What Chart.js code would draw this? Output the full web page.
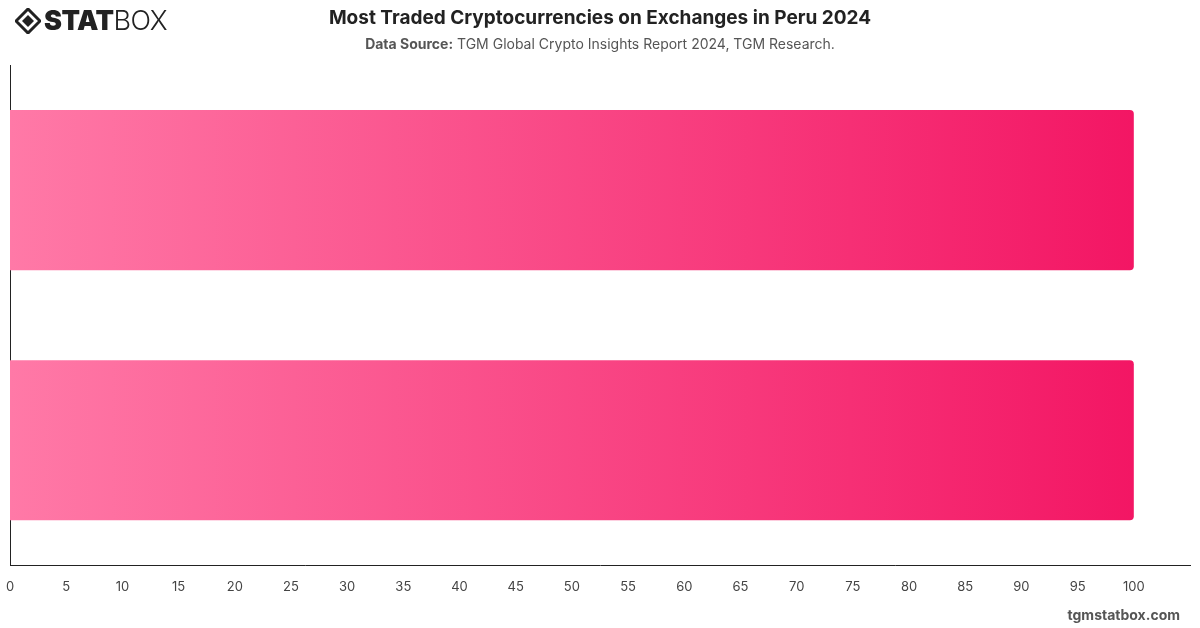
<!DOCTYPE html>
<html>
<head>
<meta charset="utf-8">
<script src="https://cdn.jsdelivr.net/npm/chart.js@4.4.1/dist/chart.umd.min.js"></script>
<style>
  html, body { margin: 0; padding: 0; background: #fff; font-family: Inter, "Open Sans", sans-serif; }
  #wrap { position: relative; width: 1200px; height: 628px; overflow: hidden; }
  #chartBox { position: absolute; left: 0; top: 0; width: 1200px; height: 628px; }
  .logo { position: absolute; left: 15px; top: 6px; display: flex; align-items: center; color: #222; }
  .logo .word { font-size: 27px; letter-spacing: -0.5px; line-height: 30px; }
  .logo .heavy { font-weight: 900; }
  .logo .light { font-weight: 300; }
  .title { position: absolute; left: 0; width: 1200px; top: 6px; text-align: center; font-size: 19px; font-weight: 700; color: #222; }
  .sub { position: absolute; left: 0; width: 1200px; top: 35px; text-align: center; font-size: 14px; color: #555; }
  .sub b { font-weight: 700; }
  .foot { position: absolute; right: 20px; top: 606px; font-size: 14px; font-weight: 700; color: #555; }
</style>
</head>
<body>
<div id="wrap">
  <div id="chartBox"><canvas id="myChart"></canvas></div>
  <div class="logo">
    <svg width="26" height="26" viewBox="0 0 26 26" style="margin-right:3px">
      <path d="M13 1 L25 13 L13 25 L1 13 Z" fill="none" stroke="#222" stroke-width="3"/>
      <path d="M13 7 L19 13 L13 19 L7 13 Z" fill="#222"/>
    </svg>
    <span class="word heavy">STAT</span><span class="word light">BOX</span>
  </div>
  <div class="title">Most Traded Cryptocurrencies on Exchanges in Peru 2024</div>
  <div class="sub"><b>Data Source:</b> TGM Global Crypto Insights Report 2024, TGM Research.</div>
  <div class="foot">tgmstatbox.com</div>
</div>
<script>
// categories (axis labels are not shown in the original)
const coins = ["Bitcoin", "Tether"];
const shares = [100, 100];
const xTicksMax = 105;
const xStep = 5;

const ctx = document.getElementById('myChart').getContext('2d');

function barGradient(context) {
    const chart = context.chart;
    const area = chart.chartArea;
    if (!area) return '#f5457f';
    const xs = chart.scales.x;
    const x0 = xs.getPixelForValue(0);
    const x1 = xs.getPixelForValue(Math.max(...shares));
    const g = chart.ctx.createLinearGradient(x0, 0, x1, 0);
    g.addColorStop(0, 'rgb(255,121,167)');
    g.addColorStop(1, 'rgb(243,22,100)');
    return g;
}

const myChart = new Chart(ctx, {
    type: 'bar',
    data: {
        labels: coins,
        datasets: [{
            label: 'Share',
            data: shares,
            backgroundColor: barGradient,
            borderRadius: { topRight: 4, bottomRight: 4, topLeft: 0, bottomLeft: 0 },
            borderSkipped: 'start',
            barPercentage: 0.8,
            categoryPercentage: 0.8
        }]
    },
    options: {
        indexAxis: 'y',
        responsive: true,
        maintainAspectRatio: false,
        animation: false,
        layout: { padding: { top: 65, left: 10, right: 10, bottom: 19 } },
        plugins: {
            legend: { display: false },
            tooltip: { enabled: false }
        },
        scales: {
            x: {
                min: 0,
                max: xTicksMax,
                grid: { display: false, drawTicks: false },
                border: { display: true, color: '#222', width: 1 },
                ticks: {
                    stepSize: xStep,
                    padding: 14,
                    color: '#444',
                    font: { family: 'Inter', size: 13 },
                    callback: (v) => (v > 100 ? '' : v)
                },
                afterFit: (s) => { s.paddingLeft = 0; s.paddingRight = 0; }
            },
            y: {
                grid: { display: false, drawTicks: false },
                border: { display: true, color: '#222', width: 1 },
                ticks: { display: false },
                afterFit: (s) => { s.width = 0; }
            }
        }
    }
});
</script>
</body>
</html>
